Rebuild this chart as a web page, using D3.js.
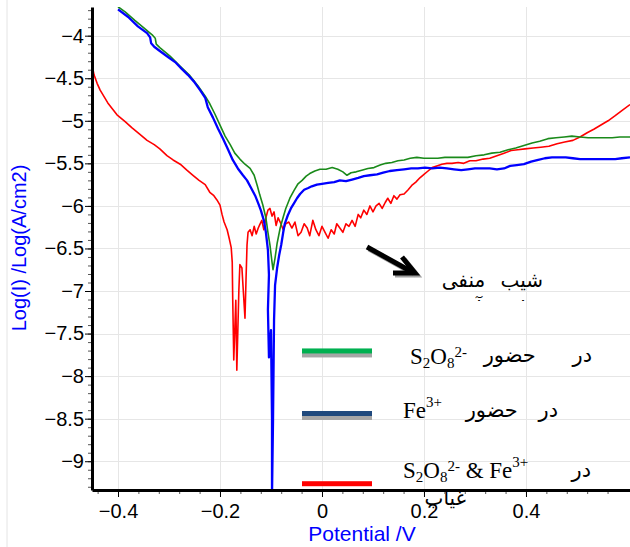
<!DOCTYPE html>
<html>
<head>
<meta charset="utf-8">
<script src="https://cdn.jsdelivr.net/npm/d3@7"></script>
<style>
  body { margin: 0; background: #fff; }
  svg { display: block; }
</style>
</head>
<body>
<svg id="chart" width="630" height="547"></svg>
<script>
// S2O8 2- only (green)
const s2o8E = [-0.400,-0.386,-0.367,-0.347,-0.333,-0.327,-0.325,-0.318,-0.298,-0.278,-0.259,-0.243,-0.229,-0.220,-0.210,-0.200,-0.190,-0.180,-0.171,-0.161,-0.151,-0.141,-0.133,-0.127,-0.122,-0.116,-0.110,-0.106,-0.102,-0.098,-0.096,-0.092,-0.088,-0.082,-0.076,-0.071,-0.063,-0.055,-0.047,-0.039,-0.031,-0.024,-0.014,-0.004,0.008,0.020,0.031,0.041,0.049,0.057,0.067,0.078,0.090,0.102,0.114,0.125,0.137,0.149,0.161,0.173,0.186,0.200,0.214,0.227,0.241,0.255,0.271,0.286,0.302,0.318,0.333,0.349,0.365,0.380,0.396,0.412,0.427,0.443,0.459,0.475,0.490,0.506,0.522,0.537,0.553,0.569,0.584,0.604];
const s2o8LogI = [-3.66,-3.72,-3.82,-3.92,-3.99,-4.03,-4.10,-4.14,-4.24,-4.36,-4.47,-4.59,-4.71,-4.80,-4.92,-5.05,-5.18,-5.28,-5.38,-5.45,-5.51,-5.56,-5.64,-5.76,-5.87,-5.99,-6.14,-6.31,-6.46,-6.66,-6.75,-6.61,-6.44,-6.26,-6.13,-6.03,-5.91,-5.82,-5.74,-5.70,-5.65,-5.62,-5.59,-5.57,-5.57,-5.55,-5.57,-5.60,-5.64,-5.61,-5.60,-5.58,-5.56,-5.55,-5.52,-5.50,-5.49,-5.47,-5.46,-5.44,-5.43,-5.44,-5.44,-5.44,-5.43,-5.43,-5.43,-5.43,-5.41,-5.40,-5.38,-5.37,-5.34,-5.32,-5.29,-5.26,-5.24,-5.21,-5.20,-5.19,-5.18,-5.19,-5.20,-5.20,-5.20,-5.20,-5.19,-5.19];

// Fe 3+ only (blue)
const fe3E = [-0.400,-0.380,-0.361,-0.343,-0.337,-0.335,-0.329,-0.318,-0.302,-0.288,-0.275,-0.263,-0.251,-0.239,-0.229,-0.224,-0.214,-0.204,-0.194,-0.184,-0.175,-0.165,-0.155,-0.147,-0.139,-0.131,-0.125,-0.120,-0.114,-0.110,-0.106,-0.104,-0.106,-0.104,-0.100,-0.098,-0.098,-0.096,-0.094,-0.092,-0.088,-0.084,-0.080,-0.076,-0.073,-0.067,-0.061,-0.055,-0.049,-0.043,-0.035,-0.027,-0.020,-0.010,0.000,0.012,0.024,0.035,0.047,0.059,0.071,0.082,0.094,0.108,0.120,0.133,0.147,0.161,0.175,0.188,0.202,0.216,0.231,0.245,0.259,0.273,0.286,0.300,0.316,0.329,0.343,0.357,0.369,0.382,0.396,0.410,0.424,0.437,0.451,0.465,0.478,0.492,0.506,0.520,0.533,0.547,0.561,0.575,0.588,0.604];
const fe3LogI = [-3.69,-3.78,-3.89,-3.97,-4.02,-4.09,-4.13,-4.18,-4.25,-4.31,-4.39,-4.46,-4.54,-4.64,-4.73,-4.84,-4.96,-5.09,-5.21,-5.34,-5.46,-5.56,-5.64,-5.70,-5.79,-5.88,-5.97,-6.05,-6.17,-6.31,-6.52,-6.81,-7.22,-7.78,-7.46,-8.51,-9.40,-8.51,-7.34,-6.93,-6.73,-6.58,-6.46,-6.31,-6.21,-6.11,-6.03,-5.97,-5.91,-5.86,-5.81,-5.79,-5.77,-5.75,-5.74,-5.73,-5.72,-5.70,-5.71,-5.69,-5.67,-5.65,-5.64,-5.63,-5.61,-5.59,-5.58,-5.57,-5.56,-5.56,-5.55,-5.56,-5.55,-5.56,-5.57,-5.58,-5.57,-5.56,-5.56,-5.56,-5.57,-5.56,-5.53,-5.52,-5.51,-5.48,-5.46,-5.44,-5.43,-5.43,-5.43,-5.44,-5.45,-5.45,-5.45,-5.45,-5.45,-5.45,-5.44,-5.43];

// S2O8 2- & Fe 3+ together (red)
const mixE = [-0.451,-0.447,-0.441,-0.435,-0.420,-0.402,-0.386,-0.373,-0.357,-0.343,-0.329,-0.318,-0.304,-0.292,-0.278,-0.265,-0.253,-0.241,-0.229,-0.220,-0.212,-0.206,-0.200,-0.196,-0.192,-0.186,-0.182,-0.178,-0.176,-0.175,-0.173,-0.171,-0.169,-0.167,-0.165,-0.163,-0.161,-0.157,-0.155,-0.151,-0.149,-0.147,-0.145,-0.141,-0.137,-0.133,-0.129,-0.125,-0.122,-0.118,-0.114,-0.110,-0.106,-0.102,-0.098,-0.094,-0.090,-0.086,-0.082,-0.076,-0.071,-0.065,-0.059,-0.053,-0.047,-0.041,-0.035,-0.029,-0.024,-0.018,-0.012,-0.006,0.000,0.006,0.012,0.018,0.024,0.029,0.035,0.041,0.047,0.053,0.059,0.065,0.071,0.076,0.082,0.088,0.094,0.100,0.106,0.112,0.118,0.124,0.129,0.135,0.141,0.147,0.153,0.161,0.169,0.176,0.184,0.192,0.200,0.208,0.216,0.225,0.235,0.245,0.255,0.267,0.278,0.290,0.302,0.316,0.329,0.343,0.357,0.371,0.384,0.398,0.414,0.429,0.445,0.461,0.476,0.492,0.506,0.520,0.533,0.547,0.561,0.575,0.588,0.604];
const mixLogI = [-4.34,-4.46,-4.56,-4.64,-4.79,-4.93,-5.01,-5.08,-5.16,-5.23,-5.28,-5.33,-5.41,-5.46,-5.51,-5.58,-5.64,-5.70,-5.75,-5.84,-5.88,-5.93,-5.99,-6.10,-6.19,-6.28,-6.38,-6.49,-6.66,-7.11,-7.81,-7.46,-7.11,-7.93,-7.46,-6.99,-6.69,-6.73,-6.93,-7.32,-6.87,-6.46,-6.31,-6.28,-6.35,-6.24,-6.33,-6.26,-6.22,-6.17,-6.28,-6.14,-6.05,-6.03,-6.12,-6.07,-6.23,-6.14,-6.19,-6.28,-6.21,-6.19,-6.26,-6.19,-6.35,-6.31,-6.21,-6.26,-6.35,-6.17,-6.28,-6.35,-6.24,-6.31,-6.38,-6.28,-6.33,-6.21,-6.26,-6.31,-6.21,-6.24,-6.17,-6.24,-6.10,-6.14,-6.05,-6.10,-6.00,-6.07,-6.00,-5.97,-6.03,-5.96,-5.91,-5.97,-5.88,-5.92,-5.87,-5.86,-5.81,-5.76,-5.72,-5.67,-5.63,-5.59,-5.55,-5.53,-5.51,-5.50,-5.50,-5.49,-5.50,-5.47,-5.47,-5.45,-5.44,-5.41,-5.38,-5.35,-5.34,-5.33,-5.32,-5.31,-5.30,-5.27,-5.25,-5.23,-5.19,-5.14,-5.10,-5.05,-5.00,-4.94,-4.88,-4.81];

const xTicks = [-0.4, -0.2, 0, 0.2, 0.4];
const yTicks = [-4, -4.5, -5, -5.5, -6, -6.5, -7, -7.5, -8, -8.5, -9];

const svg = d3.select("#chart");
const mLeft = 92, mRight = 630, mTop = 7, mBottom = 490;

const x = d3.scaleLinear().domain([-0.451, 0.604]).range([mLeft, mRight]);
const y = d3.scaleLinear().domain([-9.338, -3.663]).range([mBottom, mTop]);

// faint outer frame on the left
svg.append("line")
  .attr("x1", 7).attr("x2", 7).attr("y1", 0).attr("y2", 547)
  .attr("stroke", "#e4e4e4").attr("stroke-width", 1);

// grid
const grid = svg.append("g").attr("stroke", "#e6e6e6").attr("stroke-width", 1);
grid.selectAll(".gx").data(xTicks).enter().append("line")
  .attr("x1", d => Math.round(x(d)) + 0.5).attr("x2", d => Math.round(x(d)) + 0.5)
  .attr("y1", mTop).attr("y2", mBottom);
grid.selectAll(".gy").data(yTicks).enter().append("line")
  .attr("x1", mLeft).attr("x2", mRight)
  .attr("y1", d => Math.round(y(d)) + 0.5).attr("y2", d => Math.round(y(d)) + 0.5);

// clip for the curves
svg.append("defs").append("clipPath").attr("id", "plotClip")
  .append("rect").attr("x", mLeft).attr("y", mTop)
  .attr("width", mRight - mLeft).attr("height", mBottom - mTop);

const series = [
  { e: mixE, v: mixLogI, color: "#ff0000", width: 1.6 },
  { e: s2o8E, v: s2o8LogI, color: "#1a8a1a", width: 1.6 },
  { e: fe3E, v: fe3LogI, color: "#0000ff", width: 2.3 }
];

const line = d3.line().x(d => x(d[0])).y(d => y(d[1]));

svg.append("g").attr("clip-path", "url(#plotClip)")
  .selectAll("path").data(series).enter().append("path")
  .attr("d", s => line(d3.zip(s.e, s.v)))
  .attr("fill", "none")
  .attr("stroke", s => s.color)
  .attr("stroke-width", s => s.width)
  .attr("stroke-linejoin", "round");

// legend lines with grey shadow
const legendLines = [
  { color: "#00b050", yv: -7.71 },
  { color: "#1f497d", yv: -8.445 },
  { color: "#ff0000", yv: -9.27 }
];
const lg = svg.append("g");
lg.selectAll(".sh").data(legendLines.slice(0, 2)).enter().append("rect")
  .attr("x", 302).attr("width", 70).attr("height", 5)
  .attr("y", d => y(d.yv) + 1).attr("fill", "#a6a6a6");
lg.selectAll(".ln").data(legendLines).enter().append("rect")
  .attr("x", 302).attr("width", 70).attr("height", 5)
  .attr("y", d => y(d.yv) - 3).attr("fill", d => d.color);

// legend texts
const serif = "'Liberation Serif', 'Times New Roman', serif";
const arabicFont = "'DejaVu Sans', sans-serif";

function chem(g, xPos, yPos, parts) {
  const t = g.append("text").attr("x", xPos).attr("y", yPos)
    .attr("font-family", serif).attr("font-size", 23).attr("fill", "#000");
  parts.forEach(p => {
    const ts = t.append("tspan").text(p[0]);
    if (p[1] === "sub") ts.attr("font-size", 15).attr("dy", 4);
    else if (p[1] === "sup") ts.attr("font-size", 15).attr("dy", -11);
    else if (p[1] === "base") ts.attr("dy", 7);
    else if (p[1] === "back") ts.attr("dy", -4);
  });
  return t;
}

function arabic(g, xEnd, yPos, txt, size, wordGap) {
  return g.append("text").attr("x", xEnd).attr("y", yPos).attr("text-anchor", "end")
    .attr("font-family", arabicFont).attr("font-size", size)
    .attr("word-spacing", wordGap).attr("fill", "#000")
    .text(txt);
}

const tg = svg.append("g");
chem(tg, 410, 364, [["S"], ["2", "sub"], ["O", "back"], ["8", "sub"], ["2-", "sup"]]);
arabic(tg, 592, 362, "در حضور", 21, 30);

chem(tg, 403, 418, [["Fe"], ["3+", "sup"]]);
arabic(tg, 558, 417, "در حضور", 21, 14);

chem(tg, 403, 478, [["S"], ["2", "sub"], ["O", "back"], ["8", "sub"], ["2-", "sup"], [" & Fe", "base"], ["3+", "sup"]]);
arabic(tg, 591, 477, "در", 21, 0);

// second line of the third label, cut off at the axis
svg.append("defs").append("clipPath").attr("id", "cutBelow")
  .append("rect").attr("x", 380).attr("y", 492).attr("width", 120).attr("height", 30);
arabic(svg, 466, 505, "غیاب", 20, 0).attr("clip-path", "url(#cutBelow)");

// arrow with shadow
const arrow = [[367, 247], [414, 273]];
[["#a0a0a0", 2], ["#000", 0]].forEach(([c, off]) => {
  const g = svg.append("g").attr("transform", `translate(${off},${off})`)
    .attr("stroke", c).attr("stroke-width", 5).attr("fill", "none");
  g.append("line").attr("x1", arrow[0][0]).attr("y1", arrow[0][1])
    .attr("x2", arrow[1][0]).attr("y2", arrow[1][1]);
  g.append("polyline").attr("points", "402,257 415,273 393,273");
});

svg.append("defs").append("clipPath").attr("id", "cutNote")
  .append("rect").attr("x", 420).attr("y", 260).attr("width", 160).attr("height", 41);
const note = svg.append("text").attr("clip-path", "url(#cutNote)")
  .attr("font-family", arabicFont).attr("font-size", 20).attr("word-spacing", 9)
  .attr("text-anchor", "end");
note.append("tspan").attr("x", 543).attr("y", 287).text("شیب منفی");
note.append("tspan").attr("x", 543).attr("y", 315).text("شاخه آندی");

// axes
const xAxis = d3.axisBottom(x).tickValues(xTicks).tickSize(7).tickFormat(d3.format("")).tickSizeOuter(0);
const yAxis = d3.axisLeft(y).tickValues(yTicks).tickSize(7).tickFormat(d3.format("")).tickSizeOuter(0);

const minorX = d3.range(-0.44, 0.6, 0.04).map(v => +v.toFixed(2));
const minorY = d3.range(-9.3, -3.65, 0.1).map(v => +v.toFixed(1));

svg.append("g").attr("transform", `translate(0,${mBottom})`)
  .call(d3.axisBottom(x).tickValues(minorX).tickSize(4).tickFormat("").tickSizeOuter(0))
  .call(g => g.select(".domain").remove())
  .selectAll("line").attr("stroke", "#555");
svg.append("g").attr("transform", `translate(${mLeft},0)`)
  .call(d3.axisLeft(y).tickValues(minorY).tickSize(4).tickFormat("").tickSizeOuter(0))
  .call(g => g.select(".domain").remove())
  .selectAll("line").attr("stroke", "#555");

const gx = svg.append("g").attr("transform", `translate(0,${mBottom})`).call(xAxis);
gx.select(".domain").attr("stroke", "#000").attr("stroke-width", 3);
gx.selectAll("text").attr("font-family", "'Liberation Sans', Arial, sans-serif")
  .attr("font-size", 20).attr("fill", "#000").attr("dy", "0.9em");

const gy = svg.append("g").attr("transform", `translate(${mLeft},0)`).call(yAxis);
gy.select(".domain").attr("stroke", "#000").attr("stroke-width", 3);
gy.selectAll("text").attr("font-family", "'Liberation Sans', Arial, sans-serif")
  .attr("font-size", 20).attr("fill", "#000").attr("x", -8);

// axis titles
svg.append("text").attr("x", 362).attr("y", 541).attr("text-anchor", "middle")
  .attr("font-family", "'Liberation Sans', Arial, sans-serif").attr("font-size", 21)
  .attr("fill", "#0000ff").text("Potential /V");
svg.append("text").attr("transform", "translate(26,248) rotate(-90)").attr("text-anchor", "middle")
  .attr("font-family", "'Liberation Sans', Arial, sans-serif").attr("font-size", 20)
  .attr("fill", "#0000ff").text("Log(I) /Log(A/cm2)");
</script>
</body>
</html>
